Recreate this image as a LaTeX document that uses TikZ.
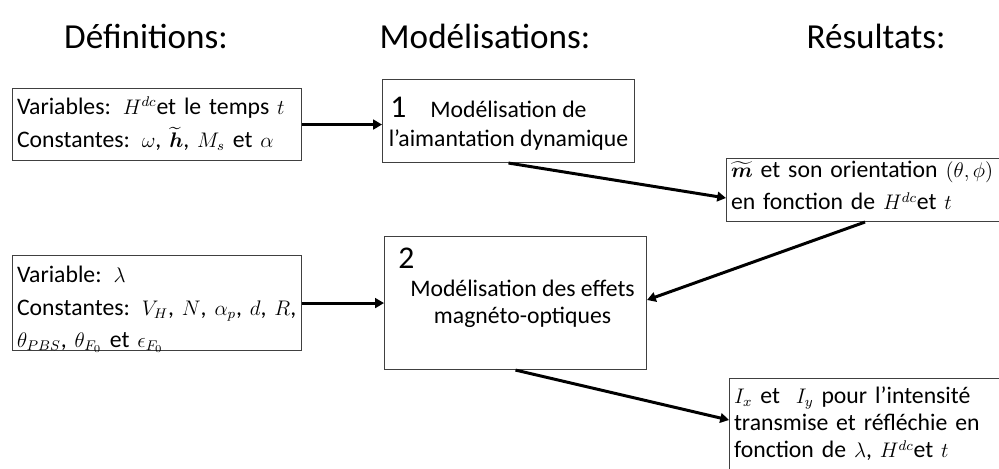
\documentclass[tikz,border=0pt]{standalone}
\usepackage{amsmath}
\usepackage{bm}
\usepackage{fontspec}
\setmainfont{Carlito}
\DeclareMathSizes{13.5}{12}{8.5}{6.5}
\usetikzlibrary{arrows.meta,calc}

\tikzset{
  boite/.style={draw=black!75, line width=0.6pt, inner xsep=2.5pt, inner ysep=2pt,
    anchor=north west, font=\fontsize{13.5}{15.5}\selectfont},
  titre/.style={font=\fontsize{20}{24}\selectfont, anchor=base},
  chiffre/.style={font=\fontsize{18}{20}\selectfont, inner sep=0pt, anchor=north west},
  fleche/.style={line width=1.7pt, -{Triangle[length=5pt,width=5.5pt]}},
}

\begin{document}
\begin{tikzpicture}[x=0.02cm, y=-0.02cm]
  \useasboundingbox (0,0) rectangle (999,468);
  \clip (0,0) rectangle (999,468);

  % titres des colonnes
  \node[titre] (tdef) at (146,48) {Définitions:};
  \node[titre] (tmod) at (485,48) {Modélisations:};
  \node[titre] (tres) at (876,48) {Résultats:};

  % definitions
  \node[boite, minimum width=5.78cm, minimum height=1.44cm, text width=5.6cm, align=left,
    text height=12.8pt, text depth=24.2pt]
    (def1) at (12,88) {Variables: $H^{dc}$et le temps $t$\\[3.4pt]
      Constantes: $\omega$, $\widetilde{\bm{h}}$, $M_s$ et $\alpha$};
  \node[boite, minimum width=5.78cm, minimum height=1.9cm, text width=5.6cm, align=left,
    text height=13.4pt, text depth=36.7pt]
    (def2) at (12,255) {Variable: $\lambda$\\[3.4pt]
      \mbox{Constantes: $V_H$, $N$, $\alpha_p$, $d$, $R$,}\\[2.6pt]
      $\theta_{PBS}$, $\theta_{F_0}$ et $\epsilon_{F_0}$};

  % modelisations
  \node[boite, minimum width=5.04cm, minimum height=1.66cm, align=center,
    font=\fontsize{13.5}{16.5}\selectfont, text height=36.1pt, text depth=7.1pt]
    (mod1) at (382,79) {Modélisation de\\l'aimantation dynamique};
  \node[chiffre] (num1) at ($(mod1.north west)+(8,18)$) {1};
  \node[boite, minimum width=5.24cm, minimum height=2.66cm, align=center,
    text height=47.5pt, text depth=24.2pt]
    (mod2) at (384,236) {\hspace*{8pt}Modélisation des effets\\\hspace*{8pt}magnéto-optiques};
  \node[chiffre] (num2) at ($(mod2.north west)+(14,12)$) {2};

  % resultats
  \node[boite, minimum width=6cm, minimum height=1.26cm, text width=5.82cm, align=left,
    text height=8.8pt, text depth=23pt] (res1) at (726,158)
    {\mbox{$\widetilde{\bm{m}}$ et son orientation $(\theta,\phi)$}\\[2.8pt]
      en fonction de $H^{dc}$et $t$};
  \node[boite, minimum width=6cm, minimum height=2.2cm, text width=5.82cm, align=left,
    text height=12.2pt, text depth=48pt]
    (res2) at (729,378) {$I_x$ et\ \ $I_y$ pour l'intensité\\
      transmise et réfléchie en\\fonction de $\lambda$, $H^{dc}$et $t$};

  % fleches
  \draw[fleche] (def1.east) -- (def1.east -| mod1.west);
  \draw[fleche] (mod1.south) -- ($(res1.north west)+(0,40)$);
  \draw[fleche] ($(res1.south west)+(139,0)$) -- ($(mod2.north east)+(0,64)$);
  \draw[fleche] (def2.east) -- (def2.east -| mod2.west);
  \draw[fleche] (mod2.south) -- ($(res2.north west)+(0,42)$);
\end{tikzpicture}
\end{document}
